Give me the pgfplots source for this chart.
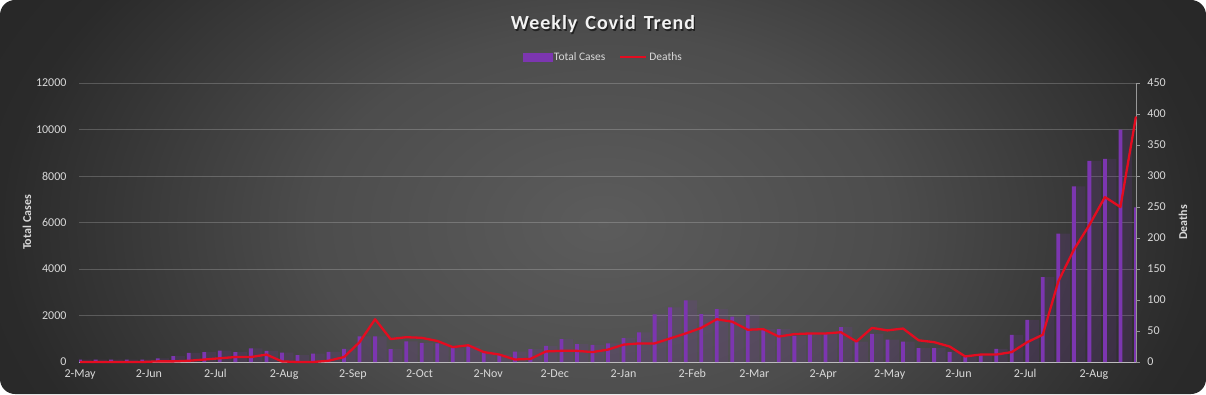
\documentclass[border=0pt]{standalone}
\usepackage{fontspec}
\setmainfont{Carlito}
\usepackage{pgfplots}
\pgfplotsset{compat=1.18}
\usepackage{pgfplotstable}
\definecolor{barc}{RGB}{124,54,176}
\definecolor{linec}{RGB}{228,12,32}
\definecolor{txt}{RGB}{217,217,217}
\definecolor{axc}{RGB}{190,190,190}
\pgfdeclareradialshading{bgshade}{\pgfpointorigin}{rgb(0bp)=(0.36,0.36,0.36); rgb(12bp)=(0.30,0.30,0.30); rgb(25bp)=(0.165,0.165,0.165); rgb(40bp)=(0.12,0.12,0.12); rgb(50bp)=(0.12,0.12,0.12)}

\pgfplotstableread{
i cases deaths
0 100 0
1 100 0
2 100 0
3 100 0
4 100 0
5 160 1
6 250 1
7 390 2
8 420 4
9 490 6
10 420 8
11 590 8
12 480 12
13 400 1
14 300 0
15 360 0
16 440 2
17 560 8
18 1100 32
19 1100 69
20 550 37
21 890 40
22 820 39
23 800 34
24 610 24
25 690 27
26 420 16
27 330 12
28 450 4
29 550 5
30 690 17
31 980 18
32 770 18
33 740 16
34 800 20
35 1030 28
36 1270 30
37 2050 30
38 2350 38
39 2650 46
40 2060 55
41 2270 69
42 1950 65
43 2030 52
44 1420 53
45 1410 41
46 1120 45
47 1240 46
48 1220 46
49 1500 48
50 880 33
51 1210 55
52 960 51
53 880 54
54 600 35
55 595 32
56 440 25
57 220 9
58 290 12
59 560 12
60 1165 16
61 1815 32
62 3650 44
63 5520 130
64 7550 181
65 8650 221
66 8740 266
67 9990 250
68 6650 396
}\data

\pgfplotsset{
  base/.style={
    at={(79pt,32pt)}, anchor=south west,
    scale only axis, width=1057pt, height=279pt,
    xmin=-0.07, xmax=68.0,
    ymin=0,
    scaled y ticks=false,
    /pgf/number format/1000 sep={},
    /pgf/number format/assume math mode=true,
    ticklabel style={font=\fontsize{12}{14}\selectfont, text=txt},
    xtick={0,4.43,8.71,13.14,17.57,21.86,26.29,30.57,35,39.43,43.43,47.86,52.14,56.57,60.86,65.29},
    xticklabels={2-May,2-Jun,2-Jul,2-Aug,2-Sep,2-Oct,2-Nov,2-Dec,2-Jan,2-Feb,2-Mar,2-Apr,2-May,2-Jun,2-Jul,2-Aug},
  }
}

\begin{document}
\begin{tikzpicture}[x=1pt,y=1pt]
\useasboundingbox (0,0) rectangle (1206,394);
\fill[white] (0,0) rectangle (1206,394);
\begin{scope}
\clip[rounded corners=15pt] (0,0) rectangle (1206,394);
\shade[shading=bgshade] (0,-230) rectangle (1206,570);
\end{scope}
% title
\node[anchor=base, text=black, opacity=0.55] at (604.3,362.7)
  {\fontsize{20}{24}\selectfont\bfseries\addfontfeatures{LetterSpace=5}Weekly\hspace{0.4em}Covid\hspace{0.4em}Trend};
\node[anchor=base, text=white!95!black] at (603,364)
  {\fontsize{20}{24}\selectfont\bfseries\addfontfeatures{LetterSpace=5}Weekly\hspace{0.4em}Covid\hspace{0.4em}Trend};

\begin{axis}[base,
  ymax=12000, ytick={0,2000,...,12000},
  axis x line*=bottom, axis y line*=left,
  y axis line style={draw=none},
  x axis line style={draw=axc, line width=1pt},
  major tick length=0pt,
  ymajorgrids, major grid style={white, opacity=0.2, line width=0.7pt},
  xticklabel style={yshift=-4pt},
  yticklabel style={xshift=-9pt},
  ylabel={Total Cases},
  every axis y label/.style={at={(rel axis cs:0,0.5)}, xshift=-52pt, rotate=90, anchor=center,
     font=\fontsize{12}{14}\selectfont\bfseries, text=txt},
]
\addplot[ybar, bar width=10pt, bar shift=6.5pt, fill=barc, fill opacity=0.16, draw=none] table[x=i,y=cases]{\data};
\addplot[ybar, bar width=3.8pt, bar shift=0pt, fill=barc, draw=none] table[x=i,y=cases]{\data};
\end{axis}

\begin{axis}[base,
  ymax=450, ytick={0,50,...,450},
  axis x line=none, axis y line*=right,
  y axis line style={draw=axc!80!black, line width=0.8pt},
  ytick style={draw=axc!80!black, line width=0.8pt},
  tick align=outside, major tick length=4pt,
  yticklabel style={xshift=4pt},
  ylabel={Deaths},
  every axis y label/.style={at={(rel axis cs:1,0.5)}, xshift=47pt, rotate=90, anchor=center,
     font=\fontsize{12}{14}\selectfont\bfseries, text=txt},
  clip=false,
  legend style={at={(0.496,1.093)}, anchor=center, draw=none, fill=none, text=txt,
     font=\fontsize{11.5}{13}\selectfont, legend columns=2,
     /tikz/every even column/.append style={column sep=12pt}},
]
\addlegendimage{legend image code/.code={\fill[barc] (0pt,-4pt) rectangle (29pt,4pt);}}
\addlegendentry{Total Cases}
\addplot[linec, line width=2.3pt, line join=round, mark=none,
  legend image code/.code={\draw[linec,line width=2pt] (0pt,0pt)--(26pt,0pt);}]
  table[x=i,y=deaths]{\data};
\addlegendentry{Deaths}
\end{axis}
\end{tikzpicture}
\end{document}
